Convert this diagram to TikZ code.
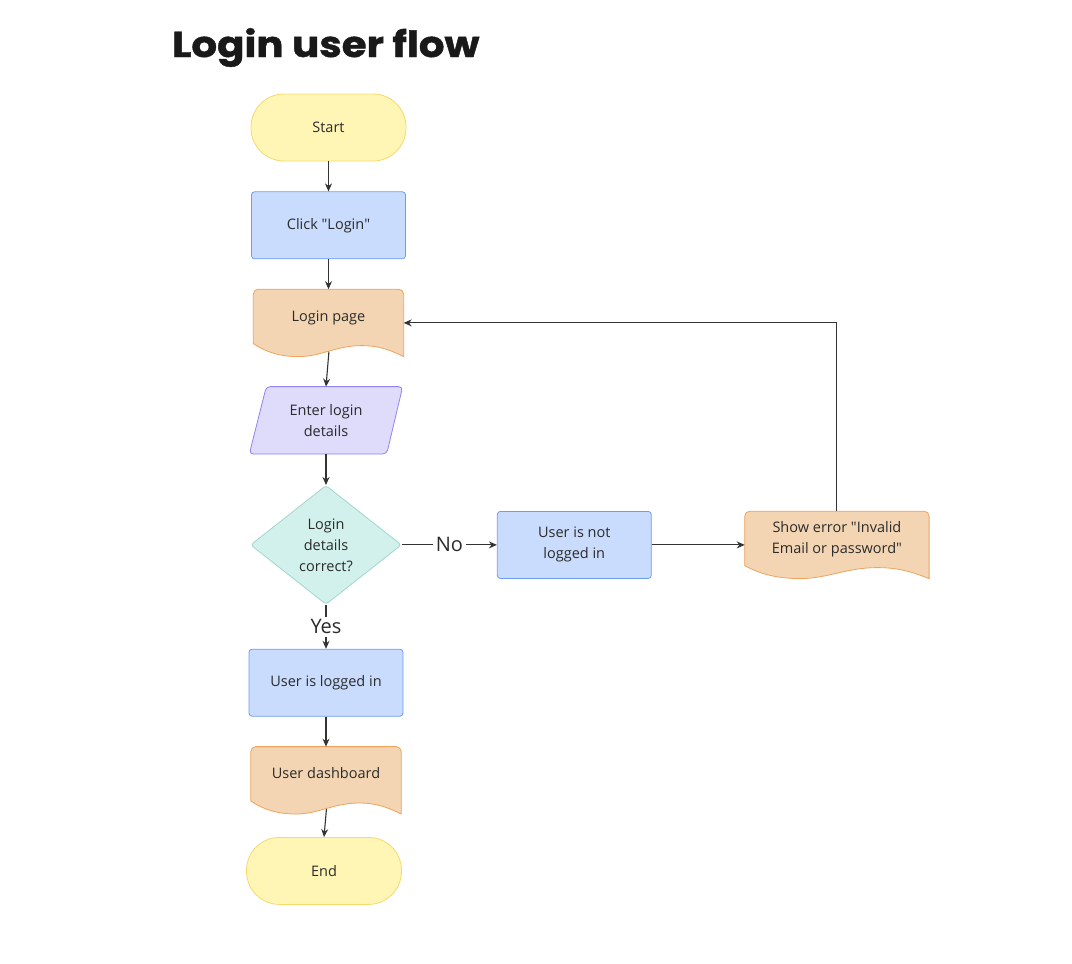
\documentclass[tikz,border=0pt]{standalone}
\usepackage{fontspec}
\setmainfont{Open Sans}
\newfontfamily\titlefont{Poppins}[FakeStretch=1.12,FakeBold=1.2]
\usepackage{xcolor}
\usepackage{tikz}
\usetikzlibrary{arrows.meta,positioning,calc,shapes.geometric,backgrounds}
\definecolor{flowtext}{HTML}{2B2B2B}
\definecolor{flowline}{HTML}{333333}
\definecolor{termfill}{HTML}{FFF6B6}
\definecolor{termline}{HTML}{F7D96B}
\definecolor{taskfill}{HTML}{C9DCFD}
\definecolor{taskline}{HTML}{6E9CF2}
\definecolor{docfill}{HTML}{F3D5B3}
\definecolor{docline}{HTML}{EFA35C}
\definecolor{iofill}{HTML}{DEDBFB}
\definecolor{ioline}{HTML}{9383EF}
\definecolor{checkfill}{HTML}{D2F1EC}
\definecolor{checkline}{HTML}{A2D6CD}

% document outline with a wavy bottom, drawn round a named node
\newcommand{\docshape}[2]{%
  \draw[#2] ($(#1.south west)+(0,-13)$) [rounded corners=5pt] -- (#1.north west) -- (#1.north east)
    [sharp corners] -- (#1.south east)
    .. controls ($(#1.south west)!0.93!(#1.south east)+(0,-5)$) and ($(#1.south west)!0.85!(#1.south east)+(0,-11)$) .. ($(#1.south west)!0.72!(#1.south east)+(0,-11)$)
    .. controls ($(#1.south west)!0.55!(#1.south east)+(0,-11)$) and ($(#1.south west)!0.45!(#1.south east)$) .. ($(#1.south west)!0.3!(#1.south east)$)
    .. controls ($(#1.south west)!0.15!(#1.south east)$) and ($(#1.south west)!0.06!(#1.south east)+(0,-7)$) .. ($(#1.south west)+(0,-13)$) -- cycle;}
% slanted input box
\newcommand{\slantshape}[2]{%
  \draw[#2,rounded corners=4pt] ($(#1.north west)+(17,0)$) -- (#1.north east) -- ($(#1.south east)+(-16,0)$) -- (#1.south west) -- cycle;}

\begin{document}
\begin{tikzpicture}[x=1pt,y=-1pt,node distance=30pt,>={Stealth[length=8pt,width=7pt]},font=\fontsize{14.5}{21}\selectfont]

\tikzset{
term/.style={
    draw=termline,
    fill=termfill,
    line width=0.8pt,
    rounded corners=33pt,
    minimum width=155pt,
    minimum height=67pt,
    text=flowtext
},
task/.style={
    draw=taskline,
    fill=taskfill,
    line width=0.8pt,
    rounded corners=3pt,
    minimum width=154pt,
    minimum height=67pt,
    align=center,
    text=flowtext
},
docbox/.style={
    minimum width=150pt,
    minimum height=67pt,
    text depth=14pt,
    align=center,
    text=flowtext
},
io/.style={
    minimum width=153pt,
    minimum height=67pt,
    align=center,
    text=flowtext
},
check/.style={
    diamond,
    draw=checkline,
    fill=checkfill,
    line width=0.8pt,
    rounded corners=3pt,
    inner sep=0pt,
    minimum width=151pt,
    minimum height=119pt,
    align=center,
    text=flowtext
},
docpaint/.style={draw=docline,fill=docfill,line width=0.8pt},
iopaint/.style={draw=ioline,fill=iofill,line width=0.8pt},
a/.style={->,line width=1.1pt,color=flowline},
lbl/.style={fill=white,inner sep=3pt,text=flowtext,font=\fontsize{20}{24}\selectfont}
}

\useasboundingbox (0,0) rectangle (1072,964);

\node[anchor=base west,inner sep=0pt,text=black!90,font=\titlefont\bfseries\fontsize{36}{40}\selectfont] (title) at (172,57) {Login user flow};

\node[term] (start) at (328.5,127.5) {Start};
\node[task,below=of start] (click) {Click \textquotedbl Login\textquotedbl};
\node[docbox,below=of click] (loginpage) {Login page};
\node[io,below=of loginpage,xshift=-2.5pt] (enter) {Enter login\\details};
\node[check,below=31pt of enter] (correct) {Login\\details\\correct?};
\node[task,right=95pt of correct] (notin) {User is not\\logged in};
\node[docbox,right=93pt of notin,minimum width=184pt] (error) {Show error \textquotedbl Invalid\\Email or password\textquotedbl};
\node[task,below=44pt of correct] (loggedin) {User is logged in};
\node[docbox,below=of loggedin] (dash) {User dashboard};
\node[term,below=23pt of dash,xshift=-2pt] (end) {End};

\begin{scope}[on background layer]
\docshape{loginpage}{docpaint}
\docshape{error}{docpaint}
\docshape{dash}{docpaint}
\slantshape{enter}{iopaint}
\end{scope}

\draw[a] (start) -- (click);
\draw[a] (click) -- (loginpage);
\draw[a,shorten <=-5pt] (loginpage.south) -- (enter.north);
\draw[a] (enter) -- (correct);
\draw[a] (correct) -- node[lbl]{No} (notin);
\draw[a] (notin) -- (error);
\draw[a] (error.north) |- (loginpage.east);
\draw[a] (correct) -- node[lbl]{Yes} (loggedin);
\draw[a] (loggedin) -- (dash);
\draw[a,shorten <=-5pt] (dash.south) -- (end.north);

\end{tikzpicture}
\end{document}
